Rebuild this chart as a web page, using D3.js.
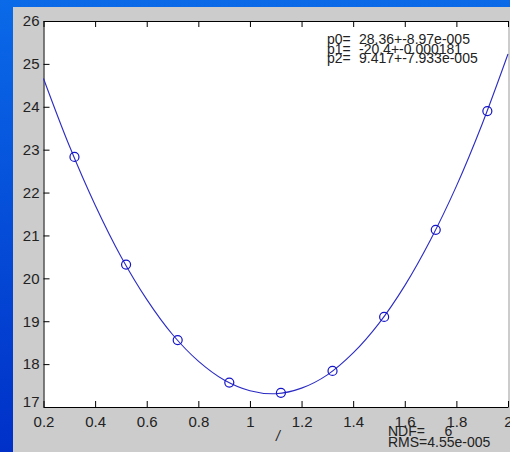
<!DOCTYPE html>
<html>
<head>
<meta charset="utf-8">
<script src="https://cdn.jsdelivr.net/npm/d3@7"></script>
<style>
  html, body { margin: 0; padding: 0; background: #0050d8; }
  svg { display: block; }
</style>
</head>
<body>
<svg id="chart" width="510" height="452"></svg>
<script>
// measured points (circles)
const pointX = [0.32, 0.52, 0.72, 0.92, 1.12, 1.32, 1.52, 1.72, 1.92]
const pointY = [22.83, 20.32, 18.56, 17.57, 17.33, 17.84, 19.1, 21.13, 23.9]

// fitted curve, every 0.1
const curveX = [0.2, 0.3, 0.4, 0.5, 0.6, 0.7, 0.8, 0.9, 1.0, 1.1, 1.2, 1.3, 1.4, 1.5, 1.6, 1.7, 1.8, 1.9, 2.0]
const curveY = [24.66, 23.09, 21.71, 20.51, 19.51, 18.69, 18.07, 17.63, 17.38, 17.31, 17.44, 17.75, 18.26, 18.95, 19.83, 20.9, 22.15, 23.6, 25.23]

const xTicks = [0.2, 0.4, 0.6, 0.8, 1, 1.2, 1.4, 1.6, 1.8, 2]
const yTicks = [17, 18, 19, 20, 21, 22, 23, 24, 25, 26]

const fitLabels = ['p0=', 'p1=', 'p2=']
const fitValues = ['28.36+-8.97e-005', '-20.4+-0.000181', '9.417+-7.933e-005']
const statLines = ['NDF=     6', 'RMS=4.55e-005']

const width = 510
const height = 452
const plot = { left: 43.5, right: 508, top: 21, bottom: 407 }
const font = 'Liberation Sans, Arial, sans-serif'

const svg = d3.select('#chart')

// background gradient
const defs = svg.append('defs')
const grad = defs.append('linearGradient')
  .attr('id', 'bg').attr('x1', 0).attr('y1', 0).attr('x2', 0).attr('y2', 1)
grad.append('stop').attr('offset', '0%').attr('stop-color', '#0a6ae8')
grad.append('stop').attr('offset', '100%').attr('stop-color', '#0030c8')

svg.append('rect').attr('width', width).attr('height', height).attr('fill', 'url(#bg)')

// title, mostly hidden behind the panel
svg.append('text')
  .attr('x', 276).attr('y', 17)
  .attr('text-anchor', 'middle')
  .attr('font-family', font).attr('font-size', 15)
  .attr('fill', '#c8c8c8')
  .text('Y0')

// gray figure panel
svg.append('rect')
  .attr('x', 13).attr('y', 7)
  .attr('width', width - 13).attr('height', height - 7)
  .attr('fill', '#cccccc')

// white axes area
svg.append('rect')
  .attr('x', plot.left).attr('y', plot.top)
  .attr('width', plot.right - plot.left).attr('height', plot.bottom - plot.top)
  .attr('fill', '#ffffff')

const x = d3.scaleLinear().domain([0.2, 2]).range([plot.left, plot.right])
const y = d3.scaleLinear().domain([17, 26]).range([plot.bottom, plot.top])

// axes, matlab style: ticks pointing inward
const xAxis = svg.append('g')
  .attr('transform', `translate(0,${plot.bottom})`)
  .call(d3.axisBottom(x).tickValues(xTicks).tickSize(-6).tickPadding(9).tickSizeOuter(0)
    .tickFormat(d3.format('')))
xAxis.select('.domain').attr('stroke', '#000')
xAxis.selectAll('.tick line').attr('stroke', '#000')
xAxis.selectAll('text')
  .attr('font-family', font).attr('font-size', 15).attr('fill', '#222')

const xTop = svg.append('g')
  .attr('transform', `translate(0,${plot.top})`)
  .call(d3.axisTop(x).tickValues(xTicks).tickSize(-6).tickSizeOuter(0).tickFormat(''))
xTop.select('.domain').attr('stroke', '#000')
xTop.selectAll('.tick line').attr('stroke', '#000')

const yAxis = svg.append('g')
  .attr('transform', `translate(${plot.left},0)`)
  .call(d3.axisLeft(y).tickValues(yTicks).tickSize(-6).tickPadding(4).tickSizeOuter(0))
yAxis.select('.domain').attr('stroke', '#000')
yAxis.selectAll('.tick line').attr('stroke', '#000')
yAxis.selectAll('text')
  .attr('font-family', font).attr('font-size', 15).attr('fill', '#222')
// the 17 label sits a little higher, as in the original
yAxis.selectAll('.tick').filter((d) => d === 17).select('text').attr('dy', '-0.05em')

// fitted curve
const line = d3.line()
  .x((d) => x(d[0]))
  .y((d) => y(d[1]))
  .curve(d3.curveCatmullRom)

svg.append('path')
  .datum(curveX.map((v, i) => [v, curveY[i]]))
  .attr('d', line)
  .attr('fill', 'none')
  .attr('stroke', '#2b2bc4')
  .attr('stroke-width', 1.1)

// data points
svg.append('g')
  .selectAll('circle')
  .data(pointX.map((v, i) => [v, pointY[i]]))
  .join('circle')
  .attr('cx', (d) => x(d[0]))
  .attr('cy', (d) => y(d[1]))
  .attr('r', 4.5)
  .attr('fill', 'none')
  .attr('stroke', '#1414c8')
  .attr('stroke-width', 1.2)

// fit parameters box
const fit = svg.append('g').attr('font-family', font).attr('font-size', 14).attr('fill', '#222')
fitLabels.forEach((t, i) => {
  fit.append('text').attr('x', 327).attr('y', 44 + i * 9.5).text(t)
  fit.append('text').attr('x', 359).attr('y', 44 + i * 9.5).text(fitValues[i])
})

// x label
svg.append('text')
  .attr('x', 276).attr('y', 441)
  .attr('font-family', font).attr('font-size', 14).attr('font-style', 'italic')
  .attr('fill', '#222')
  .text('/')

// stats
const stats = svg.append('g').attr('font-family', font).attr('font-size', 14).attr('fill', '#222')
statLines.forEach((t, i) => {
  stats.append('text').attr('x', 388).attr('y', 436 + i * 11).attr('xml:space', 'preserve').text(t)
})
</script>
</body>
</html>
